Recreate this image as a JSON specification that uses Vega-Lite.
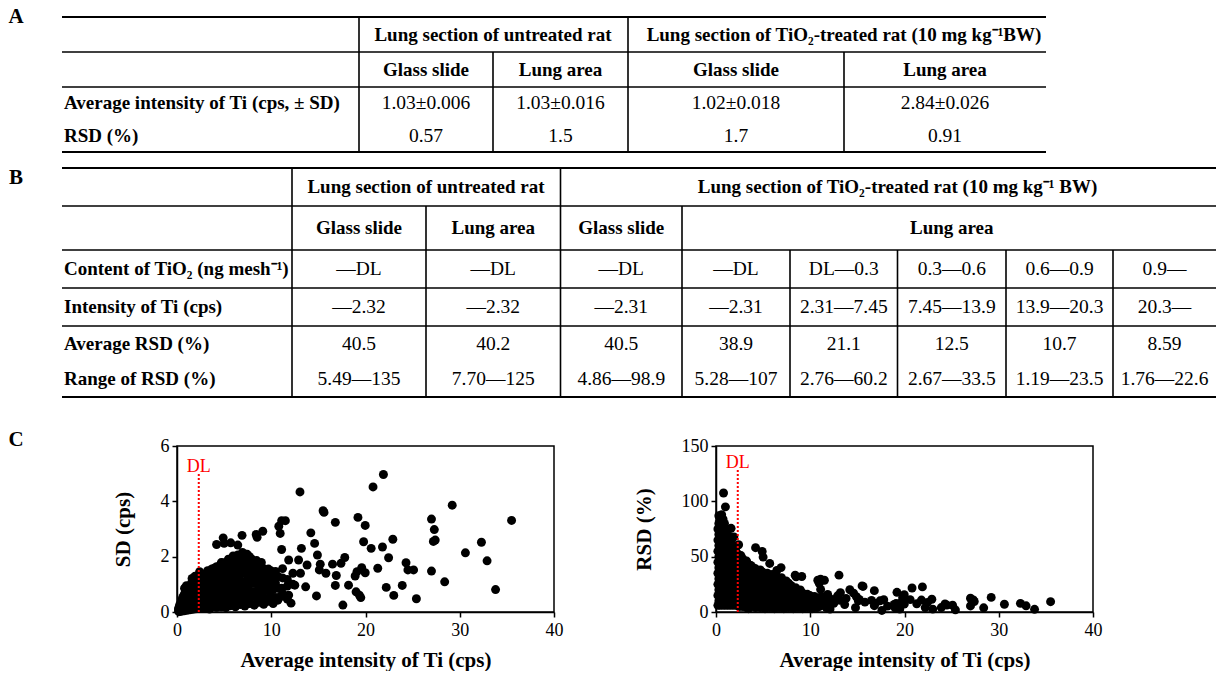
{
  "$schema": "https://vega.github.io/schema/vega-lite/v6.json",
  "padding": 0,
  "background": "white",
  "spacing": 0,
  "bounds": "flush",
  "config": {
    "view": {"stroke": null},
    "font": "Liberation Serif",
    "axis": {"grid": false, "domainColor": "black", "domainWidth": 1.5, "tickColor": "black", "tickWidth": 1.5, "tickSize": 5, "labelFont": "Liberation Serif", "labelFontSize": 18, "labelColor": "black", "titleFont": "Liberation Serif", "titleFontSize": 21, "titleFontWeight": "bold", "titleColor": "black", "labelFlush": false, "labelOverlap": false},
    "axisX": {"labelPadding": 4, "titlePadding": 10},
    "axisY": {"labelPadding": 3, "titlePadding": 27}
  },
  "datasets": {
    "tableA_text": [
      {"part": "letter", "col": -0.5, "row": 0, "text": "A"},
      {"part": "head", "col": 2, "row": 0.5, "text": "Lung section of untreated rat"},
      {"part": "head", "col": 4, "row": 0.5, "text": "Lung section of TiO₂-treated rat (10 mg kg⁻¹BW)"},
      {"part": "head", "col": 1.5, "row": 1.5, "text": "Glass slide"},
      {"part": "head", "col": 2.5, "row": 1.5, "text": "Lung area"},
      {"part": "head", "col": 3.5, "row": 1.5, "text": "Glass slide"},
      {"part": "head", "col": 4.5, "row": 1.5, "text": "Lung area"},
      {"part": "stub", "col": 0, "row": 2.5, "text": "Average intensity of Ti (cps, ± SD)"},
      {"part": "stub", "col": 0, "row": 3.5, "text": "RSD (%)"},
      {"part": "value", "col": 1.5, "row": 2.5, "text": "1.03±0.006"},
      {"part": "value", "col": 2.5, "row": 2.5, "text": "1.03±0.016"},
      {"part": "value", "col": 3.5, "row": 2.5, "text": "1.02±0.018"},
      {"part": "value", "col": 4.5, "row": 2.5, "text": "2.84±0.026"},
      {"part": "value", "col": 1.5, "row": 3.5, "text": "0.57"},
      {"part": "value", "col": 2.5, "row": 3.5, "text": "1.5"},
      {"part": "value", "col": 3.5, "row": 3.5, "text": "1.7"},
      {"part": "value", "col": 4.5, "row": 3.5, "text": "0.91"}
    ],
    "tableA_lines": [
      {"c0": 0, "c1": 5, "r0": 0, "r1": 0, "kind": "outer"},
      {"c0": 0, "c1": 5, "r0": 1, "r1": 1, "kind": "inner"},
      {"c0": 0, "c1": 5, "r0": 2, "r1": 2, "kind": "inner"},
      {"c0": 0, "c1": 5, "r0": 4, "r1": 4, "kind": "outer"},
      {"c0": 1, "c1": 1, "r0": 0, "r1": 4, "kind": "inner"},
      {"c0": 2, "c1": 2, "r0": 1, "r1": 4, "kind": "inner"},
      {"c0": 3, "c1": 3, "r0": 0, "r1": 4, "kind": "inner"},
      {"c0": 4, "c1": 4, "r0": 1, "r1": 4, "kind": "inner"}
    ],
    "tableB_text": [
      {"part": "letter", "col": -0.5, "row": 0.25, "text": "B"},
      {"part": "letter", "col": -0.5, "row": 7, "text": "C"},
      {"part": "head", "col": 2, "row": 0.5, "text": "Lung section of untreated rat"},
      {"part": "head", "col": 6, "row": 0.5, "text": "Lung section of TiO₂-treated rat (10 mg kg⁻¹ BW)"},
      {"part": "head", "col": 1.5, "row": 1.5, "text": "Glass slide"},
      {"part": "head", "col": 2.5, "row": 1.5, "text": "Lung area"},
      {"part": "head", "col": 3.5, "row": 1.5, "text": "Glass slide"},
      {"part": "head", "col": 6.5, "row": 1.5, "text": "Lung area"},
      {"part": "stub", "col": 0, "row": 2.5, "text": "Content of TiO₂ (ng mesh⁻¹)"},
      {"part": "stub", "col": 0, "row": 3.5, "text": "Intensity of Ti (cps)"},
      {"part": "stub", "col": 0, "row": 4.5, "text": "Average RSD (%)"},
      {"part": "stub", "col": 0, "row": 5.5, "text": "Range of RSD (%)"},
      {"part": "value", "col": 1.5, "row": 2.5, "text": "—DL"},
      {"part": "value", "col": 2.5, "row": 2.5, "text": "—DL"},
      {"part": "value", "col": 3.5, "row": 2.5, "text": "—DL"},
      {"part": "value", "col": 4.5, "row": 2.5, "text": "—DL"},
      {"part": "value", "col": 5.5, "row": 2.5, "text": "DL—0.3"},
      {"part": "value", "col": 6.5, "row": 2.5, "text": "0.3—0.6"},
      {"part": "value", "col": 7.5, "row": 2.5, "text": "0.6—0.9"},
      {"part": "value", "col": 8.5, "row": 2.5, "text": "0.9—"},
      {"part": "value", "col": 1.5, "row": 3.5, "text": "—2.32"},
      {"part": "value", "col": 2.5, "row": 3.5, "text": "—2.32"},
      {"part": "value", "col": 3.5, "row": 3.5, "text": "—2.31"},
      {"part": "value", "col": 4.5, "row": 3.5, "text": "—2.31"},
      {"part": "value", "col": 5.5, "row": 3.5, "text": "2.31—7.45"},
      {"part": "value", "col": 6.5, "row": 3.5, "text": "7.45—13.9"},
      {"part": "value", "col": 7.5, "row": 3.5, "text": "13.9—20.3"},
      {"part": "value", "col": 8.5, "row": 3.5, "text": "20.3—"},
      {"part": "value", "col": 1.5, "row": 4.5, "text": "40.5"},
      {"part": "value", "col": 2.5, "row": 4.5, "text": "40.2"},
      {"part": "value", "col": 3.5, "row": 4.5, "text": "40.5"},
      {"part": "value", "col": 4.5, "row": 4.5, "text": "38.9"},
      {"part": "value", "col": 5.5, "row": 4.5, "text": "21.1"},
      {"part": "value", "col": 6.5, "row": 4.5, "text": "12.5"},
      {"part": "value", "col": 7.5, "row": 4.5, "text": "10.7"},
      {"part": "value", "col": 8.5, "row": 4.5, "text": "8.59"},
      {"part": "value", "col": 1.5, "row": 5.5, "text": "5.49—135"},
      {"part": "value", "col": 2.5, "row": 5.5, "text": "7.70—125"},
      {"part": "value", "col": 3.5, "row": 5.5, "text": "4.86—98.9"},
      {"part": "value", "col": 4.5, "row": 5.5, "text": "5.28—107"},
      {"part": "value", "col": 5.5, "row": 5.5, "text": "2.76—60.2"},
      {"part": "value", "col": 6.5, "row": 5.5, "text": "2.67—33.5"},
      {"part": "value", "col": 7.5, "row": 5.5, "text": "1.19—23.5"},
      {"part": "value", "col": 8.5, "row": 5.5, "text": "1.76—22.6"}
    ],
    "tableB_lines": [
      {"c0": 0, "c1": 9, "r0": 0, "r1": 0, "kind": "outer"},
      {"c0": 0, "c1": 9, "r0": 1, "r1": 1, "kind": "inner"},
      {"c0": 0, "c1": 9, "r0": 2, "r1": 2, "kind": "inner"},
      {"c0": 0, "c1": 9, "r0": 3, "r1": 3, "kind": "inner"},
      {"c0": 0, "c1": 9, "r0": 4, "r1": 4, "kind": "inner"},
      {"c0": 0, "c1": 9, "r0": 6, "r1": 6, "kind": "outer"},
      {"c0": 1, "c1": 1, "r0": 0, "r1": 6, "kind": "inner"},
      {"c0": 2, "c1": 2, "r0": 1, "r1": 6, "kind": "inner"},
      {"c0": 3, "c1": 3, "r0": 0, "r1": 6, "kind": "inner"},
      {"c0": 4, "c1": 4, "r0": 1, "r1": 6, "kind": "inner"},
      {"c0": 5, "c1": 5, "r0": 2, "r1": 6, "kind": "inner"},
      {"c0": 6, "c1": 6, "r0": 2, "r1": 6, "kind": "inner"},
      {"c0": 7, "c1": 7, "r0": 2, "r1": 6, "kind": "inner"},
      {"c0": 8, "c1": 8, "r0": 2, "r1": 6, "kind": "inner"}
    ],
    "dl": [{"dl": 2.31, "base": 0, "label": "DL", "sdTop": 5.0, "sdLabel": 5.25, "rsdTop": 129, "rsdLabel": 135}],
    "pts": [
      {"x":0.2,"sd":0.012,"rsd":6},{"x":0.2,"sd":0.03,"rsd":15},{"x":0.2,"sd":0.05,"rsd":25},{"x":0.2,"sd":0.07,"rsd":35},{"x":0.2,"sd":0.09,"rsd":45},{"x":0.2,"sd":0.11,"rsd":55},{"x":0.2,"sd":0.13,"rsd":65},{"x":0.2,"sd":0.15,"rsd":75},
      {"x":0.3,"sd":0.03,"rsd":10},{"x":0.3,"sd":0.06,"rsd":20},{"x":0.3,"sd":0.09,"rsd":30},{"x":0.3,"sd":0.12,"rsd":40},{"x":0.3,"sd":0.15,"rsd":50},{"x":0.3,"sd":0.18,"rsd":60},{"x":0.3,"sd":0.21,"rsd":70},{"x":0.3,"sd":0.24,"rsd":80},{"x":0.3,"sd":0.261,"rsd":87},
      {"x":0.45,"sd":0.027,"rsd":6},{"x":0.45,"sd":0.068,"rsd":15},{"x":0.45,"sd":0.113,"rsd":25},{"x":0.45,"sd":0.158,"rsd":35},{"x":0.45,"sd":0.203,"rsd":45},{"x":0.45,"sd":0.248,"rsd":55},{"x":0.45,"sd":0.293,"rsd":65},{"x":0.45,"sd":0.338,"rsd":75},{"x":0.45,"sd":0.383,"rsd":85},
      {"x":0.6,"sd":0.06,"rsd":10},{"x":0.6,"sd":0.12,"rsd":20},{"x":0.6,"sd":0.18,"rsd":30},{"x":0.6,"sd":0.24,"rsd":40},{"x":0.6,"sd":0.3,"rsd":50},{"x":0.6,"sd":0.36,"rsd":60},{"x":0.6,"sd":0.42,"rsd":70},{"x":0.6,"sd":0.48,"rsd":80},{"x":0.6,"sd":0.528,"rsd":88},
      {"x":0.75,"sd":0.045,"rsd":6},{"x":0.75,"sd":0.113,"rsd":15},{"x":0.75,"sd":0.188,"rsd":25},{"x":0.75,"sd":0.263,"rsd":35},{"x":0.75,"sd":0.338,"rsd":45},{"x":0.75,"sd":0.413,"rsd":55},{"x":0.75,"sd":0.488,"rsd":65},{"x":0.75,"sd":0.563,"rsd":75},{"x":0.75,"sd":0.63,"rsd":84},
      {"x":0.8,"sd":0.86,"rsd":107.5},
      {"x":0.9,"sd":0.09,"rsd":10},{"x":0.9,"sd":0.18,"rsd":20},{"x":0.9,"sd":0.27,"rsd":30},{"x":0.9,"sd":0.36,"rsd":40},{"x":0.9,"sd":0.45,"rsd":50},{"x":0.9,"sd":0.54,"rsd":60},{"x":0.9,"sd":0.63,"rsd":70},{"x":0.9,"sd":0.72,"rsd":80},
      {"x":1.0,"sd":0.95,"rsd":95},
      {"x":1.05,"sd":0.063,"rsd":6},{"x":1.05,"sd":0.158,"rsd":15},{"x":1.05,"sd":0.263,"rsd":25},{"x":1.05,"sd":0.368,"rsd":35},{"x":1.05,"sd":0.473,"rsd":45},{"x":1.05,"sd":0.578,"rsd":55},{"x":1.05,"sd":0.683,"rsd":65},{"x":1.05,"sd":0.788,"rsd":75},
      {"x":1.2,"sd":0.12,"rsd":10},{"x":1.2,"sd":0.24,"rsd":20},{"x":1.2,"sd":0.36,"rsd":30},{"x":1.2,"sd":0.48,"rsd":40},{"x":1.2,"sd":0.6,"rsd":50},{"x":1.2,"sd":0.72,"rsd":60},{"x":1.2,"sd":0.84,"rsd":70},
      {"x":1.35,"sd":0.081,"rsd":6},{"x":1.35,"sd":0.203,"rsd":15},{"x":1.35,"sd":0.338,"rsd":25},{"x":1.35,"sd":0.473,"rsd":35},{"x":1.35,"sd":0.608,"rsd":45},{"x":1.35,"sd":0.743,"rsd":55},{"x":1.35,"sd":0.878,"rsd":65},
      {"x":1.5,"sd":0.15,"rsd":10},{"x":1.5,"sd":0.3,"rsd":20},{"x":1.5,"sd":0.45,"rsd":30},{"x":1.5,"sd":0.6,"rsd":40},{"x":1.5,"sd":0.75,"rsd":50},{"x":1.5,"sd":0.9,"rsd":60},{"x":1.5,"sd":1.02,"rsd":68},
      {"x":1.6,"sd":1.21,"rsd":75.6},
      {"x":1.65,"sd":0.099,"rsd":6},{"x":1.65,"sd":0.248,"rsd":15},{"x":1.65,"sd":0.413,"rsd":25},{"x":1.65,"sd":0.578,"rsd":35},{"x":1.65,"sd":0.743,"rsd":45},{"x":1.65,"sd":0.908,"rsd":55},{"x":1.65,"sd":1.073,"rsd":65},
      {"x":1.8,"sd":0.18,"rsd":10},{"x":1.8,"sd":0.36,"rsd":20},{"x":1.8,"sd":0.54,"rsd":30},{"x":1.8,"sd":0.72,"rsd":40},{"x":1.8,"sd":0.9,"rsd":50},{"x":1.8,"sd":1.08,"rsd":60},
      {"x":1.9,"sd":1.29,"rsd":67.9},
      {"x":1.95,"sd":0.117,"rsd":6},{"x":1.95,"sd":0.293,"rsd":15},{"x":1.95,"sd":0.488,"rsd":25},{"x":1.95,"sd":0.683,"rsd":35},{"x":1.95,"sd":0.878,"rsd":45},{"x":1.95,"sd":1.073,"rsd":55},
      {"x":2.1,"sd":0.21,"rsd":10},{"x":2.1,"sd":0.42,"rsd":20},{"x":2.1,"sd":0.63,"rsd":30},{"x":2.1,"sd":0.84,"rsd":40},{"x":2.1,"sd":1.05,"rsd":50},{"x":2.1,"sd":1.218,"rsd":58},
      {"x":2.25,"sd":0.135,"rsd":6},{"x":2.25,"sd":0.338,"rsd":15},{"x":2.25,"sd":0.563,"rsd":25},{"x":2.25,"sd":0.788,"rsd":35},{"x":2.25,"sd":1.013,"rsd":45},{"x":2.25,"sd":1.193,"rsd":53},
      {"x":2.4,"sd":1.46,"rsd":60.8},
      {"x":2.45,"sd":0.123,"rsd":5},{"x":2.45,"sd":0.343,"rsd":14},{"x":2.45,"sd":0.564,"rsd":23},{"x":2.45,"sd":0.784,"rsd":32},{"x":2.45,"sd":1.005,"rsd":41},{"x":2.45,"sd":1.225,"rsd":50},
      {"x":2.65,"sd":0.239,"rsd":9},{"x":2.65,"sd":0.477,"rsd":18},{"x":2.65,"sd":0.716,"rsd":27},{"x":2.65,"sd":0.954,"rsd":36},{"x":2.65,"sd":1.193,"rsd":45},{"x":2.65,"sd":1.352,"rsd":51},
      {"x":2.85,"sd":0.143,"rsd":5},{"x":2.85,"sd":0.399,"rsd":14},{"x":2.85,"sd":0.656,"rsd":23},{"x":2.85,"sd":0.912,"rsd":32},{"x":2.85,"sd":1.169,"rsd":41},{"x":2.85,"sd":1.368,"rsd":48},
      {"x":3.05,"sd":0.275,"rsd":9},{"x":3.05,"sd":0.549,"rsd":18},{"x":3.05,"sd":0.824,"rsd":27},{"x":3.05,"sd":1.098,"rsd":36},{"x":3.05,"sd":1.373,"rsd":45},
      {"x":3.25,"sd":0.13,"rsd":4},{"x":3.25,"sd":0.423,"rsd":13},{"x":3.25,"sd":0.715,"rsd":22},{"x":3.25,"sd":1.008,"rsd":31},{"x":3.25,"sd":1.3,"rsd":40},{"x":3.25,"sd":1.495,"rsd":46},
      {"x":3.45,"sd":0.104,"rsd":3},{"x":3.45,"sd":0.276,"rsd":8},{"x":3.45,"sd":0.587,"rsd":17},{"x":3.45,"sd":0.897,"rsd":26},{"x":3.45,"sd":1.208,"rsd":35},{"x":3.45,"sd":1.484,"rsd":43},
      {"x":3.7,"sd":0.185,"rsd":5},{"x":3.7,"sd":0.481,"rsd":13},{"x":3.7,"sd":0.777,"rsd":21},{"x":3.7,"sd":1.073,"rsd":29},{"x":3.7,"sd":1.369,"rsd":37},{"x":3.7,"sd":1.554,"rsd":42},
      {"x":3.95,"sd":0.356,"rsd":9},{"x":3.95,"sd":0.672,"rsd":17},{"x":3.95,"sd":0.988,"rsd":25},{"x":3.95,"sd":1.304,"rsd":33},{"x":3.95,"sd":1.58,"rsd":40},
      {"x":4.2,"sd":0.168,"rsd":4},{"x":4.2,"sd":0.504,"rsd":12},{"x":4.2,"sd":0.84,"rsd":20},{"x":4.2,"sd":1.176,"rsd":28},{"x":4.2,"sd":1.47,"rsd":35},{"x":4.2,"sd":1.638,"rsd":39},{"x":4.2,"sd":2.44,"rsd":58.1},
      {"x":4.45,"sd":0.312,"rsd":7},{"x":4.45,"sd":0.668,"rsd":15},{"x":4.45,"sd":1.024,"rsd":23},{"x":4.45,"sd":1.38,"rsd":31},{"x":4.45,"sd":1.647,"rsd":37},
      {"x":4.7,"sd":0.188,"rsd":4},{"x":4.7,"sd":0.517,"rsd":11},{"x":4.7,"sd":0.893,"rsd":19},{"x":4.7,"sd":1.269,"rsd":27},{"x":4.7,"sd":1.598,"rsd":34},{"x":4.7,"sd":1.786,"rsd":38},
      {"x":4.9,"sd":2.68,"rsd":54.7},
      {"x":4.95,"sd":0.347,"rsd":7},{"x":4.95,"sd":0.743,"rsd":15},{"x":4.95,"sd":1.139,"rsd":23},{"x":4.95,"sd":1.485,"rsd":30},{"x":4.95,"sd":1.782,"rsd":36},
      {"x":5.0,"sd":2.48,"rsd":49.6},
      {"x":5.2,"sd":0.156,"rsd":3},{"x":5.2,"sd":0.52,"rsd":10},{"x":5.2,"sd":0.936,"rsd":18},{"x":5.2,"sd":1.352,"rsd":26},{"x":5.2,"sd":1.716,"rsd":33},
      {"x":5.45,"sd":0.327,"rsd":6},{"x":5.45,"sd":0.763,"rsd":14},{"x":5.45,"sd":1.199,"rsd":22},{"x":5.45,"sd":1.581,"rsd":29},{"x":5.45,"sd":1.908,"rsd":35},
      {"x":5.7,"sd":0.228,"rsd":4},{"x":5.7,"sd":0.627,"rsd":11},{"x":5.7,"sd":1.026,"rsd":18},{"x":5.7,"sd":1.425,"rsd":25},{"x":5.7,"sd":1.767,"rsd":31},{"x":5.7,"sd":2.5,"rsd":43.9},
      {"x":5.95,"sd":0.417,"rsd":7},{"x":5.95,"sd":0.833,"rsd":14},{"x":5.95,"sd":1.25,"rsd":21},{"x":5.95,"sd":1.666,"rsd":28},{"x":5.95,"sd":2.023,"rsd":34},
      {"x":6.2,"sd":0.186,"rsd":3},{"x":6.2,"sd":0.62,"rsd":10},{"x":6.2,"sd":1.054,"rsd":17},{"x":6.2,"sd":1.488,"rsd":24},{"x":6.2,"sd":1.86,"rsd":30},
      {"x":6.45,"sd":0.387,"rsd":6},{"x":6.45,"sd":0.839,"rsd":13},{"x":6.45,"sd":1.29,"rsd":20},{"x":6.45,"sd":1.742,"rsd":27},{"x":6.45,"sd":2.064,"rsd":32},{"x":6.45,"sd":2.42,"rsd":37.5},
      {"x":6.7,"sd":0.268,"rsd":4},{"x":6.7,"sd":0.67,"rsd":10},{"x":6.7,"sd":1.139,"rsd":17},{"x":6.7,"sd":1.541,"rsd":23},{"x":6.7,"sd":1.943,"rsd":29},
      {"x":6.9,"sd":2.77,"rsd":40.1},
      {"x":6.95,"sd":0.487,"rsd":7},{"x":6.95,"sd":0.904,"rsd":13},{"x":6.95,"sd":1.39,"rsd":20},{"x":6.95,"sd":1.807,"rsd":26},{"x":6.95,"sd":2.155,"rsd":31},
      {"x":7.2,"sd":0.216,"rsd":3},{"x":7.2,"sd":0.648,"rsd":9},{"x":7.2,"sd":1.08,"rsd":15},{"x":7.2,"sd":1.512,"rsd":21},{"x":7.2,"sd":1.944,"rsd":27},
      {"x":7.45,"sd":0.447,"rsd":6},{"x":7.45,"sd":0.894,"rsd":12},{"x":7.45,"sd":1.341,"rsd":18},{"x":7.45,"sd":1.788,"rsd":24},{"x":7.45,"sd":2.086,"rsd":28},
      {"x":7.7,"sd":0.308,"rsd":4},{"x":7.7,"sd":0.77,"rsd":10},{"x":7.7,"sd":1.232,"rsd":16},{"x":7.7,"sd":1.694,"rsd":22},{"x":7.7,"sd":2.002,"rsd":26},
      {"x":7.95,"sd":0.557,"rsd":7},{"x":7.95,"sd":1.034,"rsd":13},{"x":7.95,"sd":1.511,"rsd":19},{"x":7.95,"sd":1.908,"rsd":24},
      {"x":8.2,"sd":0.246,"rsd":3},{"x":8.2,"sd":0.738,"rsd":9},{"x":8.2,"sd":1.23,"rsd":15},{"x":8.2,"sd":1.64,"rsd":20},
      {"x":8.4,"sd":2.8,"rsd":33.3},
      {"x":8.45,"sd":0.507,"rsd":6},{"x":8.45,"sd":1.014,"rsd":12},{"x":8.45,"sd":1.437,"rsd":17},{"x":8.45,"sd":1.859,"rsd":22},
      {"x":8.5,"sd":2.7,"rsd":31.8},
      {"x":8.7,"sd":0.348,"rsd":4},{"x":8.7,"sd":0.783,"rsd":9},{"x":8.7,"sd":1.218,"rsd":14},{"x":8.7,"sd":1.653,"rsd":19},
      {"x":8.95,"sd":0.537,"rsd":6},{"x":8.95,"sd":0.985,"rsd":11},{"x":8.95,"sd":1.432,"rsd":16},{"x":8.95,"sd":1.79,"rsd":20},
      {"x":9.1,"sd":2.92,"rsd":32.1},
      {"x":9.2,"sd":0.276,"rsd":3},{"x":9.2,"sd":0.736,"rsd":8},{"x":9.2,"sd":1.196,"rsd":13},{"x":9.2,"sd":1.564,"rsd":17},
      {"x":9.45,"sd":0.473,"rsd":5},{"x":9.45,"sd":0.945,"rsd":10},{"x":9.45,"sd":1.418,"rsd":15},
      {"x":9.7,"sd":0.388,"rsd":4},{"x":9.7,"sd":0.776,"rsd":8},{"x":9.7,"sd":1.164,"rsd":12},{"x":9.7,"sd":1.552,"rsd":16},
      {"x":9.95,"sd":0.597,"rsd":6},{"x":9.95,"sd":0.995,"rsd":10},{"x":9.95,"sd":1.493,"rsd":15},
      {"x":10.05,"sd":1.04,"rsd":10.3},
      {"x":10.2,"sd":0.306,"rsd":3},{"x":10.2,"sd":0.816,"rsd":8},{"x":10.2,"sd":1.326,"rsd":13},
      {"x":10.45,"sd":0.523,"rsd":5},{"x":10.45,"sd":1.045,"rsd":10},{"x":10.45,"sd":1.463,"rsd":14},
      {"x":10.7,"sd":0.428,"rsd":4},{"x":10.7,"sd":0.856,"rsd":8},{"x":10.7,"sd":1.284,"rsd":12},
      {"x":10.8,"sd":3.1,"rsd":28.7},
      {"x":10.95,"sd":2.84,"rsd":25.9},{"x":10.95,"sd":0.55,"rsd":5.0},
      {"x":11.1,"sd":3.3,"rsd":29.7},{"x":11.1,"sd":2.26,"rsd":20.4},{"x":11.1,"sd":0.86,"rsd":7.7},
      {"x":11.2,"sd":0.672,"rsd":6},{"x":11.2,"sd":1.232,"rsd":11},{"x":11.2,"sd":1.568,"rsd":14},
      {"x":11.5,"sd":3.3,"rsd":28.7},
      {"x":11.7,"sd":1.18,"rsd":10.1},{"x":11.7,"sd":0.468,"rsd":4},{"x":11.7,"sd":0.936,"rsd":8},
      {"x":11.85,"sd":1.88,"rsd":15.9},{"x":11.85,"sd":0.61,"rsd":5.1},
      {"x":12.1,"sd":0.32,"rsd":2.6},
      {"x":12.3,"sd":1.0,"rsd":8.1},{"x":12.3,"sd":1.4,"rsd":11.4},
      {"x":12.5,"sd":0.97,"rsd":7.8},
      {"x":12.9,"sd":1.88,"rsd":14.6},
      {"x":13.05,"sd":4.34,"rsd":33.3},{"x":13.1,"sd":1.4,"rsd":10.7},{"x":13.2,"sd":2.3,"rsd":17.4},{"x":13.65,"sd":0.91,"rsd":6.7},{"x":13.8,"sd":1.7,"rsd":12.3},
      {"x":14.2,"sd":2.86,"rsd":20.1},{"x":14.6,"sd":2.48,"rsd":17.0},{"x":14.8,"sd":0.58,"rsd":3.9},{"x":14.9,"sd":2.06,"rsd":13.8},{"x":15.1,"sd":1.52,"rsd":10.1},
      {"x":15.2,"sd":1.73,"rsd":11.4},{"x":15.5,"sd":3.66,"rsd":23.6},{"x":15.6,"sd":3.6,"rsd":23.1},{"x":15.8,"sd":1.4,"rsd":8.9},{"x":16.5,"sd":1.73,"rsd":10.5},
      {"x":16.8,"sd":3.24,"rsd":19.3},{"x":16.8,"sd":0.96,"rsd":5.7},{"x":16.9,"sd":1.32,"rsd":7.8},{"x":17.4,"sd":1.76,"rsd":10.1},{"x":17.6,"sd":0.25,"rsd":1.4},
      {"x":17.8,"sd":1.97,"rsd":11.1},{"x":18.2,"sd":0.97,"rsd":5.3},{"x":18.9,"sd":1.3,"rsd":6.9},{"x":19.0,"sd":0.73,"rsd":3.8},{"x":19.1,"sd":1.46,"rsd":7.6},
      {"x":19.2,"sd":3.42,"rsd":17.8},{"x":19.35,"sd":0.61,"rsd":3.2},{"x":19.5,"sd":0.52,"rsd":2.7},{"x":19.6,"sd":1.6,"rsd":8.2},{"x":19.8,"sd":2.54,"rsd":12.8},
      {"x":19.97,"sd":3.13,"rsd":15.7},{"x":19.97,"sd":1.42,"rsd":7.1},{"x":20.6,"sd":2.3,"rsd":11.2},{"x":20.8,"sd":4.52,"rsd":21.7},{"x":21.3,"sd":1.58,"rsd":7.4},
      {"x":21.8,"sd":2.35,"rsd":10.8},{"x":21.9,"sd":4.97,"rsd":22.7},{"x":22.2,"sd":0.89,"rsd":4.0},{"x":22.45,"sd":1.96,"rsd":8.7},{"x":22.9,"sd":2.63,"rsd":11.5},
      {"x":23.0,"sd":0.6,"rsd":2.6},{"x":23.9,"sd":0.96,"rsd":4.0},{"x":24.3,"sd":1.78,"rsd":7.3},{"x":24.5,"sd":1.52,"rsd":6.2},{"x":25.1,"sd":1.52,"rsd":6.1},
      {"x":25.4,"sd":0.48,"rsd":1.9},{"x":27.0,"sd":3.36,"rsd":12.4},{"x":27.0,"sd":1.48,"rsd":5.5},{"x":27.2,"sd":2.55,"rsd":9.4},{"x":27.3,"sd":2.98,"rsd":10.9},
      {"x":27.4,"sd":2.6,"rsd":9.5},{"x":28.4,"sd":1.09,"rsd":3.8},{"x":29.2,"sd":3.86,"rsd":13.2},{"x":30.6,"sd":2.14,"rsd":7.0},{"x":32.3,"sd":2.52,"rsd":7.8},
      {"x":32.9,"sd":1.85,"rsd":5.6},{"x":33.8,"sd":0.81,"rsd":2.4},{"x":35.5,"sd":3.31,"rsd":9.3}
    ]
  },
  "vconcat": [
    {
      "width": 1219,
      "height": 160,
      "layer": [
        {
          "data": {"name": "tableA_lines"},
          "transform": [{"filter": "datum.kind == 'outer'"}],
          "mark": {"type": "rule", "color": "black", "strokeWidth": 2.2},
          "encoding": {
            "x": {"field": "c0", "type": "quantitative", "scale": {"type": "linear", "domain": [-0.5, 0, 1, 2, 3, 4, 5], "range": [15, 61, 358, 492, 627, 843, 1045], "nice": false, "zero": false}, "axis": null},
            "x2": {"field": "c1"},
            "y": {"field": "r0", "type": "quantitative", "scale": {"type": "linear", "domain": [0, 1, 2, 3, 4], "range": [17, 52, 87, 119.5, 152], "nice": false, "zero": false}, "axis": null},
            "y2": {"field": "r1"}
          }
        },
        {
          "data": {"name": "tableA_lines"},
          "transform": [{"filter": "datum.kind == 'inner'"}],
          "mark": {"type": "rule", "color": "black", "strokeWidth": 1.6},
          "encoding": {
            "x": {"field": "c0", "type": "quantitative", "scale": {"type": "linear", "domain": [-0.5, 0, 1, 2, 3, 4, 5], "range": [15, 61, 358, 492, 627, 843, 1045], "nice": false, "zero": false}, "axis": null},
            "x2": {"field": "c1"},
            "y": {"field": "r0", "type": "quantitative", "scale": {"type": "linear", "domain": [0, 1, 2, 3, 4], "range": [17, 52, 87, 119.5, 152], "nice": false, "zero": false}, "axis": null},
            "y2": {"field": "r1"}
          }
        },
        {
          "data": {"name": "tableA_text"},
          "transform": [{"filter": "datum.part == 'stub'"}],
          "mark": {"type": "text", "align": "left", "dx": 2, "baseline": "middle", "font": "Liberation Serif", "fontSize": 19, "fontWeight": "bold", "color": "black"},
          "encoding": {
            "x": {"field": "col", "type": "quantitative", "scale": {"type": "linear", "domain": [-0.5, 0, 1, 2, 3, 4, 5], "range": [15, 61, 358, 492, 627, 843, 1045], "nice": false, "zero": false}, "axis": null},
            "y": {"field": "row", "type": "quantitative", "scale": {"type": "linear", "domain": [0, 1, 2, 3, 4], "range": [17, 52, 87, 119.5, 152], "nice": false, "zero": false}, "axis": null},
            "text": {"field": "text", "type": "nominal"}
          }
        },
        {
          "data": {"name": "tableA_text"},
          "transform": [{"filter": "datum.part == 'head'"}],
          "mark": {"type": "text", "align": "center", "baseline": "middle", "font": "Liberation Serif", "fontSize": 19, "fontWeight": "bold", "color": "black"},
          "encoding": {
            "x": {"field": "col", "type": "quantitative", "scale": {"type": "linear", "domain": [-0.5, 0, 1, 2, 3, 4, 5], "range": [15, 61, 358, 492, 627, 843, 1045], "nice": false, "zero": false}, "axis": null},
            "y": {"field": "row", "type": "quantitative", "scale": {"type": "linear", "domain": [0, 1, 2, 3, 4], "range": [17, 52, 87, 119.5, 152], "nice": false, "zero": false}, "axis": null},
            "text": {"field": "text", "type": "nominal"}
          }
        },
        {
          "data": {"name": "tableA_text"},
          "transform": [{"filter": "datum.part == 'value'"}],
          "mark": {"type": "text", "align": "center", "baseline": "middle", "font": "Liberation Serif", "fontSize": 19.5, "color": "black"},
          "encoding": {
            "x": {"field": "col", "type": "quantitative", "scale": {"type": "linear", "domain": [-0.5, 0, 1, 2, 3, 4, 5], "range": [15, 61, 358, 492, 627, 843, 1045], "nice": false, "zero": false}, "axis": null},
            "y": {"field": "row", "type": "quantitative", "scale": {"type": "linear", "domain": [0, 1, 2, 3, 4], "range": [17, 52, 87, 119.5, 152], "nice": false, "zero": false}, "axis": null},
            "text": {"field": "text", "type": "nominal"}
          }
        },
        {
          "data": {"name": "tableA_text"},
          "transform": [{"filter": "datum.part == 'letter'"}],
          "mark": {"type": "text", "align": "center", "baseline": "middle", "font": "Liberation Serif", "fontSize": 21, "fontWeight": "bold", "color": "black"},
          "encoding": {
            "x": {"field": "col", "type": "quantitative", "scale": {"type": "linear", "domain": [-0.5, 0, 1, 2, 3, 4, 5], "range": [15, 61, 358, 492, 627, 843, 1045], "nice": false, "zero": false}, "axis": null},
            "y": {"field": "row", "type": "quantitative", "scale": {"type": "linear", "domain": [0, 1, 2, 3, 4], "range": [17, 52, 87, 119.5, 152], "nice": false, "zero": false}, "axis": null},
            "text": {"field": "text", "type": "nominal"}
          }
        }
      ]
    },
    {
      "width": 1219,
      "height": 286,
      "layer": [
        {
          "data": {"name": "tableB_lines"},
          "transform": [{"filter": "datum.kind == 'outer'"}],
          "mark": {"type": "rule", "color": "black", "strokeWidth": 2.2},
          "encoding": {
            "x": {"field": "c0", "type": "quantitative", "scale": {"type": "linear", "domain": [-0.5, 0, 1, 2, 3, 4, 5, 6, 7, 8, 9], "range": [15, 61, 291, 425, 559.5, 681, 789, 896.5, 1005, 1112, 1215], "nice": false, "zero": false}, "axis": null},
            "x2": {"field": "c1"},
            "y": {"field": "r0", "type": "quantitative", "scale": {"type": "linear", "domain": [0, 1, 2, 3, 4, 5, 6, 7], "range": [8, 46, 90, 128, 166, 201.5, 237, 280], "nice": false, "zero": false}, "axis": null},
            "y2": {"field": "r1"}
          }
        },
        {
          "data": {"name": "tableB_lines"},
          "transform": [{"filter": "datum.kind == 'inner'"}],
          "mark": {"type": "rule", "color": "black", "strokeWidth": 1.6},
          "encoding": {
            "x": {"field": "c0", "type": "quantitative", "scale": {"type": "linear", "domain": [-0.5, 0, 1, 2, 3, 4, 5, 6, 7, 8, 9], "range": [15, 61, 291, 425, 559.5, 681, 789, 896.5, 1005, 1112, 1215], "nice": false, "zero": false}, "axis": null},
            "x2": {"field": "c1"},
            "y": {"field": "r0", "type": "quantitative", "scale": {"type": "linear", "domain": [0, 1, 2, 3, 4, 5, 6, 7], "range": [8, 46, 90, 128, 166, 201.5, 237, 280], "nice": false, "zero": false}, "axis": null},
            "y2": {"field": "r1"}
          }
        },
        {
          "data": {"name": "tableB_text"},
          "transform": [{"filter": "datum.part == 'stub'"}],
          "mark": {"type": "text", "align": "left", "dx": 2, "baseline": "middle", "font": "Liberation Serif", "fontSize": 19, "fontWeight": "bold", "color": "black"},
          "encoding": {
            "x": {"field": "col", "type": "quantitative", "scale": {"type": "linear", "domain": [-0.5, 0, 1, 2, 3, 4, 5, 6, 7, 8, 9], "range": [15, 61, 291, 425, 559.5, 681, 789, 896.5, 1005, 1112, 1215], "nice": false, "zero": false}, "axis": null},
            "y": {"field": "row", "type": "quantitative", "scale": {"type": "linear", "domain": [0, 1, 2, 3, 4, 5, 6, 7], "range": [8, 46, 90, 128, 166, 201.5, 237, 280], "nice": false, "zero": false}, "axis": null},
            "text": {"field": "text", "type": "nominal"}
          }
        },
        {
          "data": {"name": "tableB_text"},
          "transform": [{"filter": "datum.part == 'head'"}],
          "mark": {"type": "text", "align": "center", "baseline": "middle", "font": "Liberation Serif", "fontSize": 19, "fontWeight": "bold", "color": "black"},
          "encoding": {
            "x": {"field": "col", "type": "quantitative", "scale": {"type": "linear", "domain": [-0.5, 0, 1, 2, 3, 4, 5, 6, 7, 8, 9], "range": [15, 61, 291, 425, 559.5, 681, 789, 896.5, 1005, 1112, 1215], "nice": false, "zero": false}, "axis": null},
            "y": {"field": "row", "type": "quantitative", "scale": {"type": "linear", "domain": [0, 1, 2, 3, 4, 5, 6, 7], "range": [8, 46, 90, 128, 166, 201.5, 237, 280], "nice": false, "zero": false}, "axis": null},
            "text": {"field": "text", "type": "nominal"}
          }
        },
        {
          "data": {"name": "tableB_text"},
          "transform": [{"filter": "datum.part == 'value'"}],
          "mark": {"type": "text", "align": "center", "baseline": "middle", "font": "Liberation Serif", "fontSize": 19.5, "color": "black"},
          "encoding": {
            "x": {"field": "col", "type": "quantitative", "scale": {"type": "linear", "domain": [-0.5, 0, 1, 2, 3, 4, 5, 6, 7, 8, 9], "range": [15, 61, 291, 425, 559.5, 681, 789, 896.5, 1005, 1112, 1215], "nice": false, "zero": false}, "axis": null},
            "y": {"field": "row", "type": "quantitative", "scale": {"type": "linear", "domain": [0, 1, 2, 3, 4, 5, 6, 7], "range": [8, 46, 90, 128, 166, 201.5, 237, 280], "nice": false, "zero": false}, "axis": null},
            "text": {"field": "text", "type": "nominal"}
          }
        },
        {
          "data": {"name": "tableB_text"},
          "transform": [{"filter": "datum.part == 'letter'"}],
          "mark": {"type": "text", "align": "center", "baseline": "middle", "font": "Liberation Serif", "fontSize": 21, "fontWeight": "bold", "color": "black"},
          "encoding": {
            "x": {"field": "col", "type": "quantitative", "scale": {"type": "linear", "domain": [-0.5, 0, 1, 2, 3, 4, 5, 6, 7, 8, 9], "range": [15, 61, 291, 425, 559.5, 681, 789, 896.5, 1005, 1112, 1215], "nice": false, "zero": false}, "axis": null},
            "y": {"field": "row", "type": "quantitative", "scale": {"type": "linear", "domain": [0, 1, 2, 3, 4, 5, 6, 7], "range": [8, 46, 90, 128, 166, 201.5, 237, 280], "nice": false, "zero": false}, "axis": null},
            "text": {"field": "text", "type": "nominal"}
          }
        }
      ]
    },
    {
      "hconcat": [
        {
          "width": 14,
          "height": 166,
          "data": {"name": "dl"},
          "mark": {"type": "text", "opacity": 0},
          "encoding": {"text": {"field": "label", "type": "nominal"}}
        },
        {
          "width": 377,
          "height": 166,
          "view": {"stroke": "black", "strokeWidth": 1.5},
          "layer": [
            {
              "data": {"name": "pts"},
              "mark": {"type": "circle", "color": "black", "opacity": 1, "size": 80},
              "encoding": {
                "x": {"field": "x", "type": "quantitative", "scale": {"domain": [0, 40], "nice": false}, "axis": {"title": "Average intensity of Ti (cps)", "values": [0, 10, 20, 30, 40]}},
                "y": {"field": "sd", "type": "quantitative", "scale": {"domain": [0, 6], "nice": false}, "axis": {"title": "SD (cps)", "values": [0, 2, 4, 6]}}
              }
            },
            {
              "data": {"name": "dl"},
              "mark": {"type": "rule", "color": "#ff0000", "strokeDash": [2, 2], "strokeWidth": 2},
              "encoding": {
                "x": {"field": "dl", "type": "quantitative"},
                "y": {"field": "base", "type": "quantitative"},
                "y2": {"field": "sdTop"}
              }
            },
            {
              "data": {"name": "dl"},
              "mark": {"type": "text", "color": "#ff0000", "font": "Liberation Serif", "fontSize": 18, "align": "center", "baseline": "middle"},
              "encoding": {
                "x": {"field": "dl", "type": "quantitative"},
                "y": {"field": "sdLabel", "type": "quantitative"},
                "text": {"field": "label", "type": "nominal"}
              }
            }
          ]
        },
        {
          "width": 377,
          "height": 166,
          "view": {"stroke": "black", "strokeWidth": 1.5},
          "layer": [
            {
              "data": {"name": "pts"},
              "mark": {"type": "circle", "color": "black", "opacity": 1, "size": 80},
              "encoding": {
                "x": {"field": "x", "type": "quantitative", "scale": {"domain": [0, 40], "nice": false}, "axis": {"title": "Average intensity of Ti (cps)", "values": [0, 10, 20, 30, 40]}},
                "y": {"field": "rsd", "type": "quantitative", "scale": {"domain": [0, 150], "nice": false}, "axis": {"title": "RSD (%)", "values": [0, 50, 100, 150]}}
              }
            },
            {
              "data": {"name": "dl"},
              "mark": {"type": "rule", "color": "#ff0000", "strokeDash": [2, 2], "strokeWidth": 2},
              "encoding": {
                "x": {"field": "dl", "type": "quantitative"},
                "y": {"field": "base", "type": "quantitative"},
                "y2": {"field": "rsdTop"}
              }
            },
            {
              "data": {"name": "dl"},
              "mark": {"type": "text", "color": "#ff0000", "font": "Liberation Serif", "fontSize": 18, "align": "center", "baseline": "middle"},
              "encoding": {
                "x": {"field": "dl", "type": "quantitative"},
                "y": {"field": "rsdLabel", "type": "quantitative"},
                "text": {"field": "label", "type": "nominal"}
              }
            }
          ]
        }
      ],
      "spacing": 162,
      "bounds": "flush"
    }
  ]
}
